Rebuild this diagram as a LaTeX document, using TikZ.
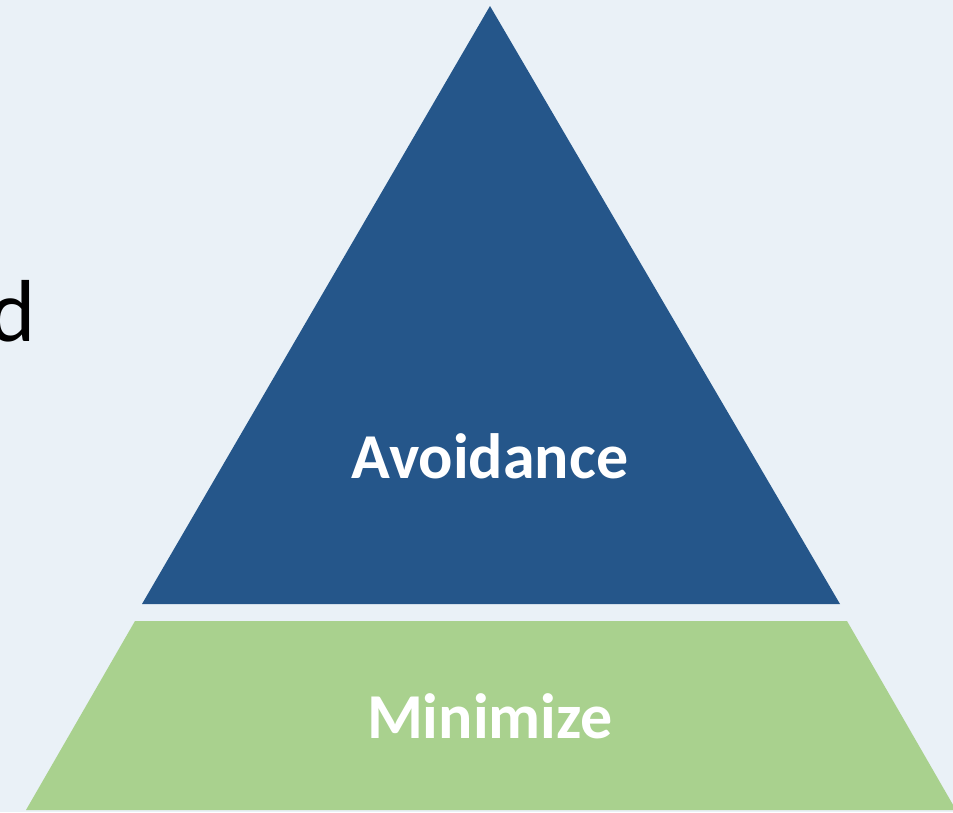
\documentclass[tikz,border=0pt]{standalone}
\usepackage{fontspec}
\setmainfont{Carlito}
\usepackage{xcolor}
\usetikzlibrary{positioning}

\definecolor{slidebg}{HTML}{EAF1F7}
\definecolor{avoidblue}{HTML}{25568A}
\definecolor{minigreen}{HTML}{A9D18E}

\begin{document}
\begin{tikzpicture}[x=1pt, y=-1pt, inner sep=0pt,
  tier/.style={font=\fontsize{64}{72}\selectfont\bfseries, text=white}]
%
\fill[slidebg] (0,0) rectangle (953,812);
\useasboundingbox (0,0) rectangle (953,812);
%
\coordinate (T1) at (490,6);
\coordinate (T2) at (840,604);
\coordinate (T3) at (142,604);
\coordinate (B1) at (135,621);
\coordinate (B2) at (847,621);
\coordinate (B3) at (956,810);
\coordinate (B4) at (26,810);
%
\fill[avoidblue] (T1) -- (T2) -- (T3) -- cycle;
\fill[minigreen] (B1) -- (B2) -- (B3) -- (B4) -- cycle;
%
\node (avoid) [tier] at (490,456) {Avoidance};
\node (mini) [tier] at (490,716) {Minimize};
\node (word) [anchor=base east, font=\fontsize{88}{96}\selectfont] at (36,341) {d};
\end{tikzpicture}
\end{document}
